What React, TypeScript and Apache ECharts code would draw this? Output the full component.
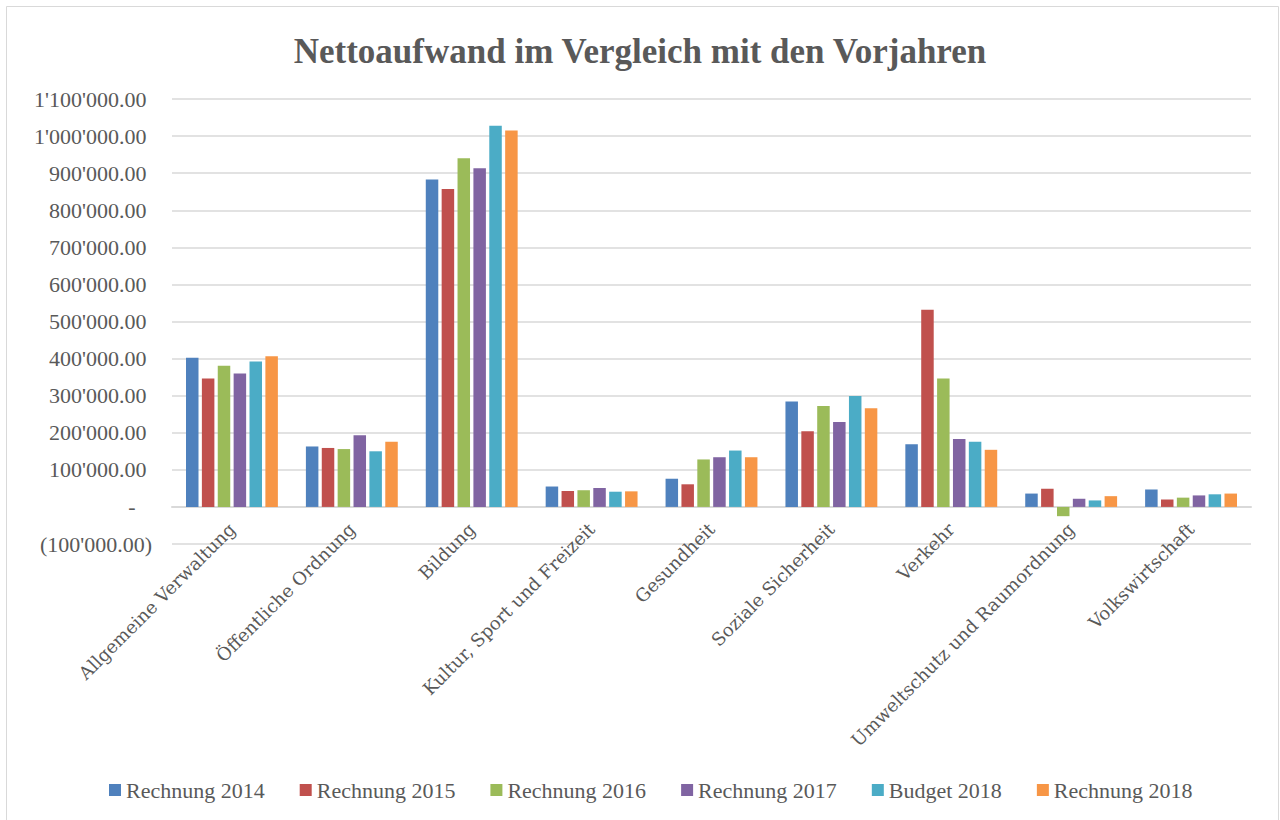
import React, { useEffect, useRef } from "react";
import * as echarts from "echarts";

const categories = [
  "Allgemeine Verwaltung",
  "Öffentliche Ordnung",
  "Bildung",
  "Kultur, Sport und Freizeit",
  "Gesundheit",
  "Soziale Sicherheit",
  "Verkehr",
  "Umweltschutz und Raumordnung",
  "Volkswirtschaft",
];

const seriesNames = [
  "Rechnung 2014",
  "Rechnung 2015",
  "Rechnung 2016",
  "Rechnung 2017",
  "Budget 2018",
  "Rechnung 2018",
];

const rechnung2014 = [402000, 163000, 883000, 55000, 76000, 284000, 169000, 36000, 47000];
const rechnung2015 = [346000, 159000, 857000, 43000, 61000, 204000, 532000, 49000, 20000];
const rechnung2016 = [381000, 156000, 940000, 45000, 128000, 272000, 346000, -25000, 25000];
const rechnung2017 = [360000, 193000, 913000, 51000, 134000, 229000, 183000, 22000, 31000];
const budget2018 = [392000, 150000, 1028000, 41000, 152000, 299000, 176000, 17500, 34000];
const rechnung2018 = [406000, 176000, 1015000, 42000, 134000, 266000, 154000, 29000, 36000];

const seriesValues = [rechnung2014, rechnung2015, rechnung2016, rechnung2017, budget2018, rechnung2018];
const colors = ["#4F81BD", "#C0504D", "#9BBB59", "#8064A2", "#4BACC6", "#F79646"];

const yMin = -100000;
const yMax = 1100000;
const yInterval = 100000;

function fmtNumber(v: number): string {
  const abs = Math.abs(v);
  const intPart = Math.floor(abs).toString().replace(/\B(?=(\d{3})+(?!\d))/g, "'");
  return intPart + ".00";
}

const LABEL_FONT = "DejaVu Serif";
const ALT_FONT = "Liberation Serif";
const TEXT_COLOR = "#595959";

export default function App() {
  const ref = useRef<HTMLDivElement>(null);
  useEffect(() => {
    if (!ref.current) return;
    const chart = echarts.init(ref.current, null, { renderer: "svg" });
    chart.setOption({
      animation: false,
      backgroundColor: "#ffffff",
      title: {
        text: "Nettoaufwand im Vergleich mit den Vorjahren",
        left: "center",
        top: 29,
        textStyle: {
          fontFamily: ALT_FONT,
          fontWeight: "bold",
          fontSize: 35,
          color: TEXT_COLOR,
        },
      },
      legend: {
        left: 104,
        top: 774,
        itemWidth: 12,
        itemHeight: 12,
        itemGap: 35,
        icon: "rect",
        textStyle: {
          fontFamily: ALT_FONT,
          fontSize: 22,
          color: TEXT_COLOR,
        },
        data: seriesNames,
      },
      grid: {
        left: 172,
        right: 29,
        top: 99,
        bottom: 276,
        containLabel: false,
      },
      xAxis: {
        type: "category",
        data: categories,
        axisLine: { onZero: true, lineStyle: { color: "#d9d9d9", width: 2 } },
        axisTick: { show: false },
        axisLabel: {
          interval: 0,
          rotate: 45,
          margin: -18,
          fontFamily: LABEL_FONT,
          fontSize: 18,
          color: TEXT_COLOR,
        },
      },
      yAxis: {
        type: "value",
        min: yMin,
        max: yMax,
        interval: yInterval,
        axisLine: { show: false },
        axisTick: { show: false },
        splitLine: { lineStyle: { color: "#d9d9d9", width: 1.5 } },
        axisLabel: {
          margin: 20,
          fontFamily: ALT_FONT,
          fontSize: 22,
          color: TEXT_COLOR,
          formatter: (v: number) => {
            if (v === 0) return "-   ";
            if (v < 0) return "(" + fmtNumber(v) + ")";
            return fmtNumber(v) + " ";
          },
        },
      },
      series: seriesNames.map((name, i) => ({
        name,
        type: "bar",
        data: seriesValues[i],
        barWidth: 12.5,
        barGap: "27%",
        itemStyle: { color: colors[i] },
      })),
      graphic: [
        {
          type: "rect",
          shape: { x: 6.5, y: 6.5, width: 1272, height: 820 },
          style: { fill: "none", stroke: "#d9d9d9", lineWidth: 1 },
          silent: true,
        },
      ],
    });
    return () => chart.dispose();
  }, []);
  return (
    <div
      ref={ref}
      style={{ position: "fixed", left: 0, top: 0, width: 1280, height: 820 }}
    />
  );
}
